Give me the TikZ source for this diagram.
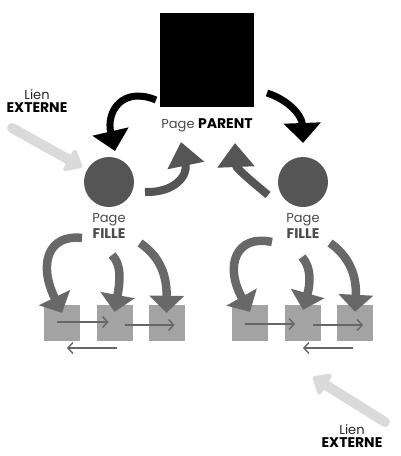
\documentclass[tikz,border=0pt]{standalone}
\usepackage{fontspec}
\setmainfont{Poppins}
\usetikzlibrary{arrows.meta}
\definecolor{childgray}{HTML}{555555}
\definecolor{boxgray}{HTML}{A3A3A3}
\definecolor{brushgray}{HTML}{686868}
\definecolor{extgray}{HTML}{DADADA}
\definecolor{textgray}{HTML}{4A4A4A}
\definecolor{linkgray}{HTML}{666666}
\newcommand{\bigb}[1]{{\fontsize{14}{14}\selectfont\textbf{#1}}}
\tikzset{
  parentbox/.style={fill=black, minimum size=94, inner sep=0},
  childdot/.style={circle, fill=childgray, minimum size=50, inner sep=0},
  pagebox/.style={fill=boxgray, minimum size=36, inner sep=0},
  lbl/.style={inner sep=0, font=\fontsize{13}{13}\selectfont, text=textgray},
  blackbrush/.style={draw=black, line width=7, -{Triangle[width=36pt,length=20pt]}},
  graybrush/.style={draw=childgray, line width=8, -{Triangle[width=36pt,length=24pt]}},
  fillebrush/.style={draw=brushgray, line width=8.5, -{Triangle[width=34pt,length=17pt]}},
  extarrow/.style={draw=extgray, line width=10, line cap=round, -{Triangle[width=28pt,length=17pt,round]}},
  thinlink/.style={draw=linkgray, line width=1.4, -{Straight Barb[length=5pt,width=11pt]}},
}
\begin{document}
\begin{tikzpicture}[x=1pt,y=-1pt]
\useasboundingbox (0,0) rectangle (400,456);
% main nodes
\node[parentbox] (parent) at (207,60) {};
\node[lbl] (parentlbl) at (207,125) {Page \bigb{\color{black}PARENT}};
\node[childdot] (c1) at (109,182) {};
\node[childdot] (c2) at (303,182) {};
\node[lbl] (c1a) at (109,220) {Page};
\node[lbl] (c1b) at (109,234) {\bigb{FILLE}};
\node[lbl] (c2a) at (303,220) {Page};
\node[lbl] (c2b) at (303,234) {\bigb{FILLE}};
% page boxes
\node[pagebox] (l1) at (62,323) {};
\node[pagebox] (l2) at (114.5,323) {};
\node[pagebox] (l3) at (166.5,323) {};
\node[pagebox] (r1) at (250,323) {};
\node[pagebox] (r2) at (303,323) {};
\node[pagebox] (r3) at (355,323) {};
% external link labels
\node[lbl, text=black!85] (e1a) at (37,95) {Lien};
\node[lbl, text=black] (e1b) at (37,108) {\bigb{EXTERNE}};
\node[lbl, text=black!85] (e2a) at (352,430) {Lien};
\node[lbl, text=black] (e2b) at (352,443) {\bigb{EXTERNE}};
% coordinates
\coordinate (pL) at (156,100);
\coordinate (pR) at (267,93);
\coordinate (tL) at (115,151);
\coordinate (tR) at (303,143);
\coordinate (uL) at (145,192);
\coordinate (uLt) at (181,142);
\coordinate (uR) at (268,195);
\coordinate (uRt) at (235,143);
% parent -> children
\draw[blackbrush] (pL) .. controls (122,86) and (106,112) .. (tL);
\draw[blackbrush] (pR) .. controls (289,100) and (302,116) .. (tR);
% children -> parent
\draw[graybrush] (uL) .. controls (174,193) and (188,176) .. (uLt);
\draw[graybrush] (uR) .. controls (250,180) and (236,168) .. (uRt);
% child -> pages (left)
\coordinate (fl1) at (82,238);
\coordinate (fl2) at (112,255);
\coordinate (fl3) at (140,243);
\draw[fillebrush] (fl1) .. controls (48,234) and (38,264) .. ([yshift=-8]l1.north);
\draw[fillebrush] (fl2) .. controls (122,265) and (120,282) .. ([yshift=-7]l2.north);
\draw[fillebrush] (fl3) .. controls (156,254) and (167,270) .. ([yshift=-8]l3.north);
% child -> pages (right)
\coordinate (fr1) at (272,242);
\coordinate (fr2) at (302,257);
\coordinate (fr3) at (330,243);
\draw[fillebrush] (fr1) .. controls (236,234) and (224,266) .. ([yshift=-7]r1.north);
\draw[fillebrush] (fr2) .. controls (312,268) and (310,285) .. ([yshift=-5]r2.north);
\draw[fillebrush] (fr3) .. controls (346,254) and (357,272) .. ([yshift=-7]r3.north);
% links between pages
\draw[thinlink] ([xshift=-5,yshift=1]l1.center) -- ([xshift=-6,yshift=1]l2.center);
\draw[thinlink] ([xshift=10,yshift=-2]l2.center) -- ([xshift=8,yshift=-2]l3.center);
\coordinate (lb1) at (117,348);
\coordinate (lb2) at (67,348);
\draw[thinlink] (lb1) -- (lb2);
\draw[thinlink] ([xshift=-5,yshift=-1]r1.center) -- ([xshift=-8,yshift=-1]r2.center);
\draw[thinlink] ([xshift=10,yshift=-2]r2.center) -- ([xshift=8,yshift=-2]r3.center);
\coordinate (rb1) at (353,348);
\coordinate (rb2) at (303,348);
\draw[thinlink] (rb1) -- (rb2);
% external links
\coordinate (x1s) at (12,128);
\coordinate (x1t) at (82,167);
\coordinate (x2s) at (385,422);
\coordinate (x2t) at (313,377);
\draw[extarrow] (x1s) -- (x1t);
\draw[extarrow] (x2s) -- (x2t);
\end{tikzpicture}
\end{document}
